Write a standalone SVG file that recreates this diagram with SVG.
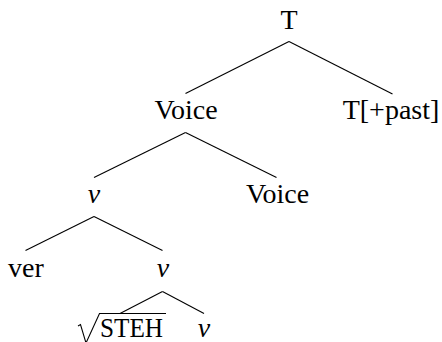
<svg xmlns="http://www.w3.org/2000/svg" width="442" height="342" viewBox="0 0 442 342">
<style>
text{font-family:"Liberation Serif","Times New Roman",serif;font-size:28px;fill:#000;text-anchor:middle}
.it{font-style:italic}
.edge{stroke:#000;stroke-width:1.1;fill:none}
</style>
<rect width="442" height="342" fill="#fff"/>
<g id="connectors">
<line class="edge" x1="289" y1="41.5" x2="185.5" y2="93.5"/>
<line class="edge" x1="289" y1="41.5" x2="392.5" y2="94"/>
<line class="edge" x1="185.5" y1="132.5" x2="94" y2="177.5"/>
<line class="edge" x1="185.5" y1="132.5" x2="276.5" y2="177.5"/>
<line class="edge" x1="94" y1="216.5" x2="25.5" y2="250.5"/>
<line class="edge" x1="94" y1="216.5" x2="162.5" y2="250.5"/>
<line class="edge" x1="162.5" y1="291.5" x2="120" y2="313.5"/>
<line class="edge" x1="162.5" y1="291.5" x2="204" y2="313.5"/>
</g>
<g id="n-T"><text x="289" y="29">T</text></g>
<g id="n-Voice1"><text x="186" y="118.5">Voice</text></g>
<g id="n-Tpast"><text x="391" y="118.5">T[+past]</text></g>
<g id="n-v1"><text class="it" x="94" y="203">v</text></g>
<g id="n-Voice2"><text x="277.5" y="203">Voice</text></g>
<g id="n-ver"><text x="26" y="277">ver</text></g>
<g id="n-v2"><text class="it" x="163" y="277">v</text></g>
<g id="n-steh">
<path d="M78 326 L80.5 324.5 L86 343 L99.5 313.5 L166 313.5" fill="none" stroke="#000" stroke-width="1.1"/>
<text x="131.5" y="337" font-size="21" textLength="63" lengthAdjust="spacingAndGlyphs">STEH</text>
</g>
<g id="n-v3"><text class="it" x="204" y="337">v</text></g>
</svg>
